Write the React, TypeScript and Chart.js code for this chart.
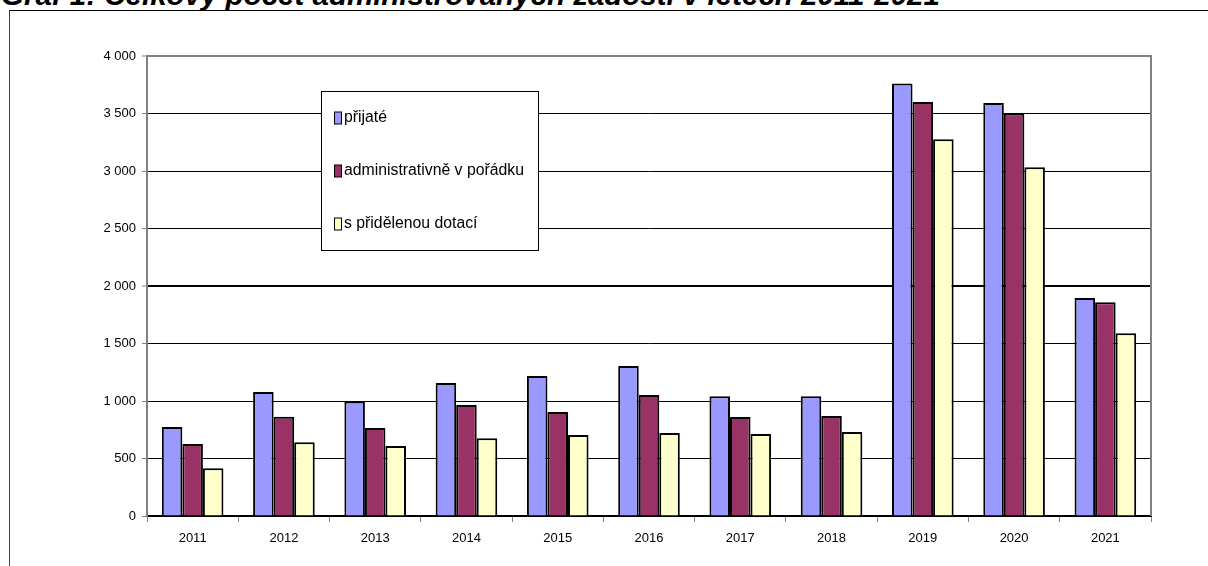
import React, { useEffect, useRef } from "react";
import { Chart, registerables } from "chart.js";

Chart.register(...registerables);

const titleText = "Graf 1: Celkový počet administrovaných žádostí v letech 2011-2021";
const years = ["2011", "2012", "2013", "2014", "2015", "2016", "2017", "2018", "2019", "2020", "2021"];
const seriesNames = ["přijaté", "administrativně v pořádku", "s přidělenou dotací"];
const seriesColors = ["#9999FF", "#993366", "#FFFFCC"];
const prijate = [774, 1078, 995, 1157, 1217, 1304, 1041, 1041, 3760, 3591, 1896];
const administrativne = [626, 864, 765, 965, 904, 1052, 861, 870, 3600, 3499, 1858];
const dotace = [415, 641, 609, 676, 704, 722, 713, 730, 3276, 3032, 1589];
const yMin = 0;
const yMax = 4000;
const yStep = 500;

const FONT = "'Liberation Sans', Arial, sans-serif";

function fmt(v: number): string {
  return String(v).replace(/\B(?=(\d{3})+(?!\d))/g, " ");
}

const frameAndLegend = {
  id: "frameAndLegend",
  afterDraw(chart: any) {
    const { ctx, chartArea } = chart;
    ctx.save();
    // right plot border
    ctx.strokeStyle = "#808080";
    ctx.lineWidth = 2;
    ctx.beginPath();
    ctx.moveTo(chartArea.right, chartArea.top - 1);
    ctx.lineTo(chartArea.right, chartArea.bottom);
    ctx.stroke();

    // legend box
    const bx = 321, by = 91, bw = 217, bh = 159;
    ctx.fillStyle = "#ffffff";
    ctx.fillRect(bx, by, bw, bh);
    ctx.strokeStyle = "#000000";
    ctx.lineWidth = 1;
    ctx.strokeRect(bx + 0.5, by + 0.5, bw, bh);
    const centers = [118, 171, 224];
    ctx.font = `15.8px ${FONT}`;
    ctx.textBaseline = "middle";
    ctx.textAlign = "left";
    seriesNames.forEach((name, i) => {
      const cy = centers[i];
      ctx.fillStyle = seriesColors[i];
      ctx.fillRect(334.5, cy - 6, 7, 12);
      ctx.strokeStyle = "#000";
      ctx.lineWidth = 1;
      ctx.strokeRect(334.5, cy - 6, 7, 12);
      ctx.fillStyle = "#000";
      ctx.fillText(name, 344, cy);
    });
    ctx.restore();
  },
};

export default function App() {
  const ref = useRef<HTMLCanvasElement | null>(null);
  useEffect(() => {
    if (!ref.current) return;
    const data = [prijate, administrativne, dotace];
    const chart = new Chart(ref.current, {
      type: "bar",
      data: {
        labels: years,
        datasets: seriesNames.map((name, i) => ({
          label: name,
          data: data[i],
          backgroundColor: seriesColors[i],
          borderColor: "#000000",
          borderWidth: { top: 2, left: 2, right: 2, bottom: 0 },
          borderSkipped: false,
          categoryPercentage: 0.675,
          barPercentage: 1.0,
        })),
      },
      options: {
        responsive: false,
        animation: false,
        events: [],
        layout: { padding: { left: 0, top: 56, right: 57, bottom: 0 } },
        plugins: {
          legend: { display: false },
          tooltip: { enabled: false },
          title: { display: false },
        },
        scales: {
          x: {
            offset: true,
            grid: {
              display: true,
              offset: true,
              drawOnChartArea: false,
              drawTicks: true,
              tickLength: 6,
              tickColor: "#808080",
              tickWidth: 1,
            },
            border: { display: true, color: "#000000", width: 2 },
            ticks: {
              color: "#000",
              font: { family: FONT, size: 13 },
              padding: 9,
              maxRotation: 0,
            },
            afterFit(scale: any) {
              scale.height = 50;
            },
          },
          y: {
            min: yMin,
            max: yMax,
            grid: {
              color: (c: any) => (c.tick && c.tick.value === yMax ? "#808080" : "#000000"),
              lineWidth: (c: any) => (c.tick && (c.tick.value === 2000 || c.tick.value === yMax) ? 2 : 1),
              tickColor: "#808080",
              tickLength: 5,
              tickWidth: 1,
            },
            border: { display: true, color: "#808080", width: 2 },
            ticks: {
              stepSize: yStep,
              color: "#000",
              font: { family: FONT, size: 13 },
              padding: 6,
              callback: (v: any) => fmt(Number(v)),
            },
            afterFit(scale: any) {
              scale.width = 147;
            },
          },
        },
      },
      plugins: [frameAndLegend],
    });
    return () => chart.destroy();
  }, []);

  return (
    <div style={{ position: "fixed", left: 0, top: 0, width: 1208, height: 566, background: "#fff", overflow: "hidden" }}>
      <div
        style={{
          position: "absolute",
          left: 9,
          top: 10,
          right: 0,
          bottom: -2,
          borderLeft: "1px solid #404040",
          borderTop: "1px solid #000",
        }}
      />
      <div
        style={{
          position: "absolute",
          left: 1,
          top: -20,
          fontFamily: FONT,
          fontWeight: "bold",
          fontStyle: "italic",
          fontSize: 29.5,
          lineHeight: "30px",
          whiteSpace: "nowrap",
          color: "#000",
        }}
      >
        {titleText}
      </div>
      <canvas ref={ref} width={1208} height={566} style={{ position: "absolute", left: 0, top: 0, width: 1208, height: 566 }} />
    </div>
  );
}
